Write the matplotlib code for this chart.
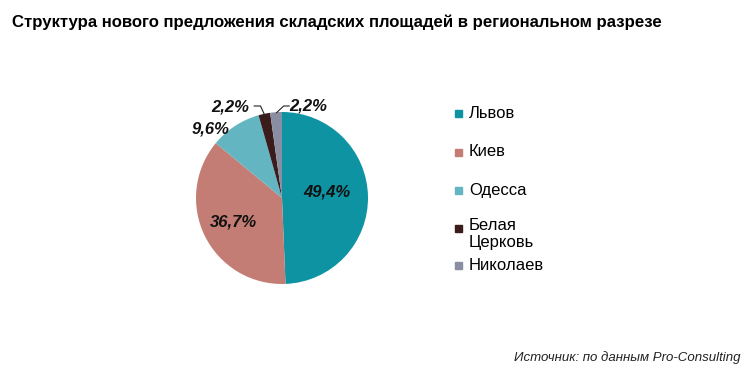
import numpy as np
import matplotlib.pyplot as plt
from matplotlib.patches import Rectangle

plt.rcParams['font.family'] = ['Liberation Sans', 'DejaVu Sans']

# данные
cities = ["Львов", "Киев", "Одесса", "Белая\nЦерковь", "Николаев"]
shares = [49.4, 36.7, 9.6, 2.2, 2.2]
share_labels = ["49,4%", "36,7%", "9,6%", "2,2%", "2,2%"]
colors = ["#0e93a2", "#c47d74", "#63b5c1", "#3b1c1c", "#8a8ea2"]

W, H = 756, 385
fig = plt.figure(figsize=(W / 100, H / 100), dpi=100)

# pie centred at pixel (282, 198), radius 86 px
cx, cy, r = 282, H - 198, 86
span = 1.5
ax = fig.add_axes([(cx - r * span) / W, (cy - r * span) / H,
                   2 * r * span / W, 2 * r * span / H])
wedges, _ = ax.pie(shares, colors=colors, startangle=90, counterclock=False,
                   radius=1.0, wedgeprops=dict(linewidth=0))
ax.set_xlim(-span, span)
ax.set_ylim(-span, span)
ax.set_aspect('equal')
ax.axis('off')

# подписи долей (радиус, сдвиг по углу)
label_pos = [(0.53, 7.0), (0.63, 0.0), (1.16, 13.0), (1.22, 18.0), (1.11, -20.0)]
for w, txt, (rr, dth) in zip(wedges, share_labels, label_pos):
    th = np.deg2rad((w.theta1 + w.theta2) / 2 + dth)
    ax.text(rr * np.cos(th), rr * np.sin(th), txt, ha='center', va='center',
            fontsize=12, fontweight='bold', fontstyle='italic', color='#111111')

# выноски для маленьких долей
for w, (x0, y0) in zip(wedges[3:], [(-0.25, 1.07), (0.02, 1.07)]):
    th = np.deg2rad((w.theta1 + w.theta2) / 2)
    ex, ey = 0.99 * np.cos(th), 0.99 * np.sin(th)
    if x0 < 0:
        xs, ys = [x0 - 0.08, x0, ex], [y0, y0, ey]
    else:
        xs, ys = [ex, x0, x0 + 0.07], [ey, y0, y0]
    ax.plot(xs, ys, color='#222222', lw=0.8, solid_capstyle='butt')

# легенда
legend_y = [113, 152, 190, 228, 265]
for name, col, y in zip(cities, colors, legend_y):
    fig.patches.append(Rectangle((455 / W, (H - y - 3.5) / H), 7 / W, 7 / H,
                                 transform=fig.transFigure, color=col))
    if '\n' in name:
        fig.text(469 / W, (H - y + 9.5) / H, name, fontsize=12, va='top', linespacing=1.15)
    else:
        fig.text(469 / W, (H - y) / H, name, fontsize=12, va='center')

fig.text(12 / W, (H - 22) / H, "Структура нового предложения складских площадей в региональном разрезе",
         fontsize=12.1, fontweight='bold', va='center', ha='left')
fig.text(740 / W, (H - 358) / H, "Источник: по данным Pro-Consulting",
         fontsize=9.5, fontstyle='italic', va='center', ha='right', color='#222222')

fig.savefig("out.png", dpi=100, facecolor='white')
